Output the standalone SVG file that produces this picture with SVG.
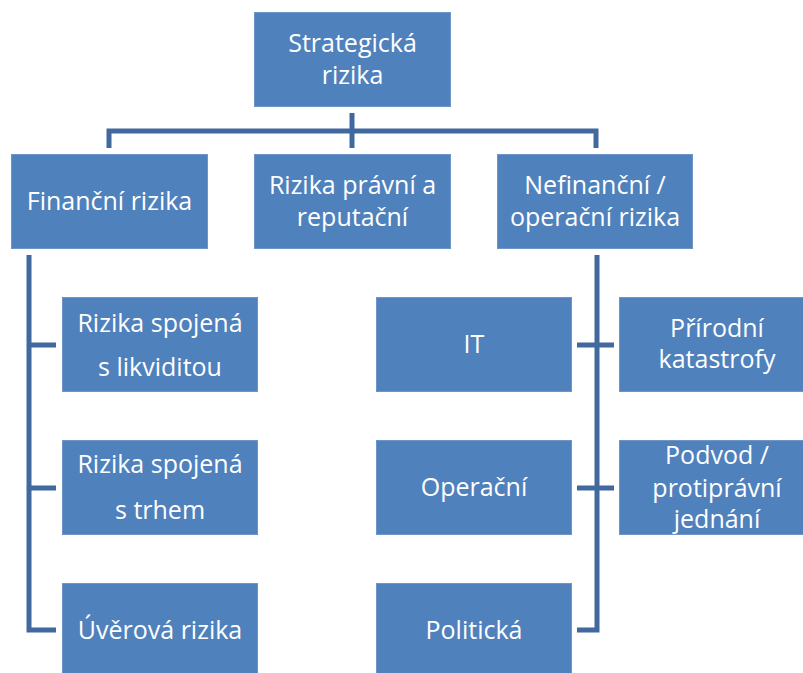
<svg xmlns="http://www.w3.org/2000/svg" width="803" height="673" viewBox="0 0 803 673">
<style>
.box{fill:#4F81BD;stroke:#6F95C8;stroke-width:1}
.t{font-family:"Open Sans","Noto Sans","Liberation Sans",sans-serif;font-size:25px;fill:#FFFFFF;text-anchor:middle}
.c{fill:none;stroke:#41699F;stroke-width:5;stroke-linejoin:miter;stroke-linecap:butt}
</style>
<rect width="803" height="673" fill="#FFFFFF"/>
<g id="connectors">
<path class="c" d="M352 113V131"/>
<path class="c" d="M109 148V131H596V148"/>
<path class="c" d="M352 131V148"/>
<path class="c" d="M29 255V630H56"/>
<path class="c" d="M29 345H56M29 488H56"/>
<path class="c" d="M597 255V630H577"/>
<path class="c" d="M577 345H614M577 488H614"/>
</g>
<g id="n-strategicka"><rect class="box" x="254.5" y="12.5" width="196" height="94"/><text class="t" x="352.5" y="52">Strategická</text><text class="t" x="352.5" y="84">rizika</text></g>
<g id="n-financni"><rect class="box" x="11.5" y="154.5" width="196" height="94"/><text class="t" x="109.5" y="210">Finanční rizika</text></g>
<g id="n-pravni"><rect class="box" x="254.5" y="154.5" width="196" height="94"/><text class="t" x="352.5" y="194">Rizika právní a</text><text class="t" x="352.5" y="226">reputační</text></g>
<g id="n-nefinancni"><rect class="box" x="497.5" y="154.5" width="195" height="94"/><text class="t" x="595" y="194">Nefinanční /</text><text class="t" x="595" y="226">operační rizika</text></g>
<g id="n-likvidita"><rect class="box" x="62.5" y="297.5" width="195" height="94"/><text class="t" x="160" y="332">Rizika spojená</text><text class="t" x="160" y="376">s likviditou</text></g>
<g id="n-trh"><rect class="box" x="62.5" y="440.5" width="195" height="94"/><text class="t" x="160" y="473">Rizika spojená</text><text class="t" x="160" y="519">s trhem</text></g>
<g id="n-uverova"><rect class="box" x="62.5" y="583.5" width="195" height="94"/><text class="t" x="160" y="639">Úvěrová rizika</text></g>
<g id="n-it"><rect class="box" x="376.5" y="297.5" width="195" height="94"/><text class="t" x="474" y="353">IT</text></g>
<g id="n-operacni"><rect class="box" x="376.5" y="440.5" width="195" height="94"/><text class="t" x="474" y="496">Operační</text></g>
<g id="n-politicka"><rect class="box" x="376.5" y="583.5" width="195" height="94"/><text class="t" x="474" y="639">Politická</text></g>
<g id="n-prirodni"><rect class="box" x="619.5" y="297.5" width="195" height="94"/><text class="t" x="717" y="337">Přírodní</text><text class="t" x="717" y="368">katastrofy</text></g>
<g id="n-podvod"><rect class="box" x="619.5" y="440.5" width="195" height="94"/><text class="t" x="717" y="464">Podvod /</text><text class="t" x="717" y="497">protiprávní</text><text class="t" x="717" y="528">jednání</text></g>
</svg>
